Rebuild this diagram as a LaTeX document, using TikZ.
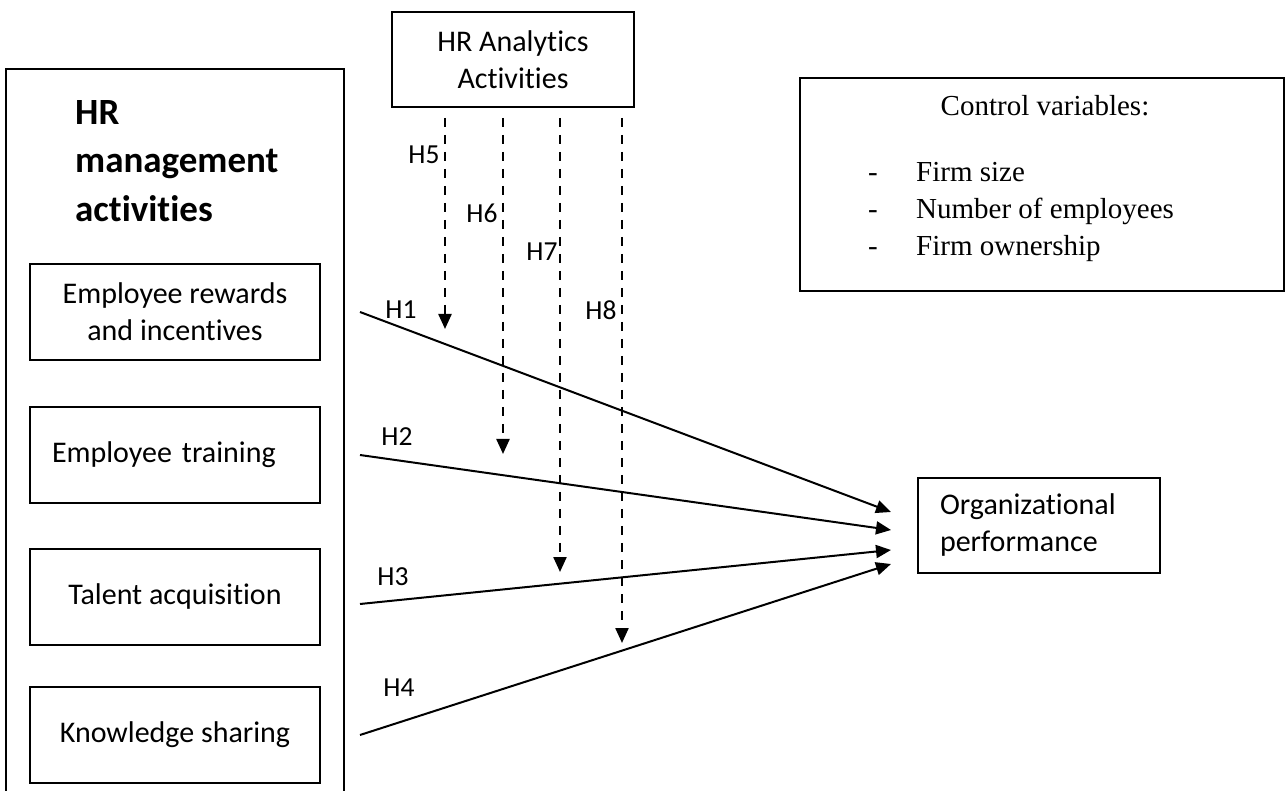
\documentclass[tikz,border=0pt]{standalone}
\usepackage{fontspec}
\setmainfont{Carlito}[Ligatures=CommonOff]
\newfontfamily\seriffont{Liberation Serif}
\usetikzlibrary{arrows.meta,calc}
\begin{document}
\begin{tikzpicture}[x=1pt,y=-1pt,
  box/.style={draw,line width=2pt,inner sep=0pt,align=center,font=\fontsize{30}{37}\selectfont},
  sidebox/.style={box,minimum width=290pt,minimum height=96pt},
  lbl/.style={inner sep=0pt,font=\fontsize{27.5}{32}\selectfont},
  ctext/.style={inner sep=0pt,anchor=base west,font=\seriffont\fontsize{29}{35}\selectfont},
  cdash/.style={inner sep=0pt,anchor=base,font=\seriffont\fontsize{29}{35}\selectfont},
  link/.style={line width=2pt,-{Triangle[length=15pt,width=13pt]}},
  modarrow/.style={line width=2.3pt,dash pattern=on 9pt off 8pt,-{Triangle[length=15pt,width=13pt]}}]
\useasboundingbox (0,0) rectangle (1286,791);

% outer container
\draw[line width=2pt] (6,793) -- (6,69) -- (344,69) -- (344,793);
\node[anchor=north west,inner sep=0pt,align=left,font=\bfseries\fontsize{37}{48.5}\selectfont] (head) at (75,100) {HR\\management\\activities};

% left boxes
\node[sidebox] (er) at (175,312) {Employee rewards\\and incentives};
\node[sidebox,align=left,text width=246pt] (et) at (175,455) {Employee training};
\node[sidebox] (ta) at (175,597) {Talent acquisition};
\node[sidebox] (ks) at (175,735) {Knowledge sharing};

% top and right boxes
\node[box,minimum width=242pt,minimum height=95pt] (ha) at (513,59.5) {HR Analytics\\Activities};
\node[box,minimum width=242pt,minimum height=95pt,align=left,text width=198pt] (org) at (1039,525.5) {Organizational\\performance};

% control variables
\node[draw,line width=2pt,minimum width=484pt,minimum height=213pt,inner sep=0pt] (ctrl) at (1042,184.5) {};
\node[inner sep=0pt,anchor=base,font=\seriffont\fontsize{29}{35}\selectfont] (cv) at (1045,116) {Control variables:};
\node[cdash] (d1) at (873,182) {-};
\node[ctext] (c1) at (916,182) {Firm size};
\node[cdash] (d2) at (873,219) {-};
\node[ctext] (c2) at (916,219) {Number of employees};
\node[cdash] (d3) at (873,256) {-};
\node[ctext] (c3) at (916,256) {Firm ownership};

% direct effects
\draw[link] ($(er.east)+(39,0)$) -- ($(org.west)+(-26,-13.5)$);
\draw[link] ($(et.east)+(39,0)$) -- ($(org.west)+(-26,4.5)$);
\draw[link] ($(ta.east)+(39,7)$) -- ($(org.west)+(-26,24.5)$);
\draw[link] ($(ks.east)+(39,0)$) -- ($(org.west)+(-26,38.5)$);

% moderating effects
\coordinate (m5) at (445,329);
\coordinate (m6) at (503,454);
\coordinate (m7) at (560,572);
\coordinate (m8) at (622,643);
\draw[modarrow] ($(ha.south -| m5)+(0,10)$) -- (m5);
\draw[modarrow] ($(ha.south -| m6)+(0,10)$) -- (m6);
\draw[modarrow] ($(ha.south -| m7)+(0,10)$) -- (m7);
\draw[modarrow] ($(ha.south -| m8)+(0,10)$) -- (m8);

% labels
\node[lbl] (h1) at (401,310) {H1};
\node[lbl] (h2) at (397,437) {H2};
\node[lbl] (h3) at (393,577) {H3};
\node[lbl] (h4) at (399,688) {H4};
\node[lbl] (h5) at (424,155) {H5};
\node[lbl] (h6) at (482,213) {H6};
\node[lbl] (h7) at (542,252) {H7};
\node[lbl] (h8) at (601,310) {H8};
\end{tikzpicture}
\end{document}
